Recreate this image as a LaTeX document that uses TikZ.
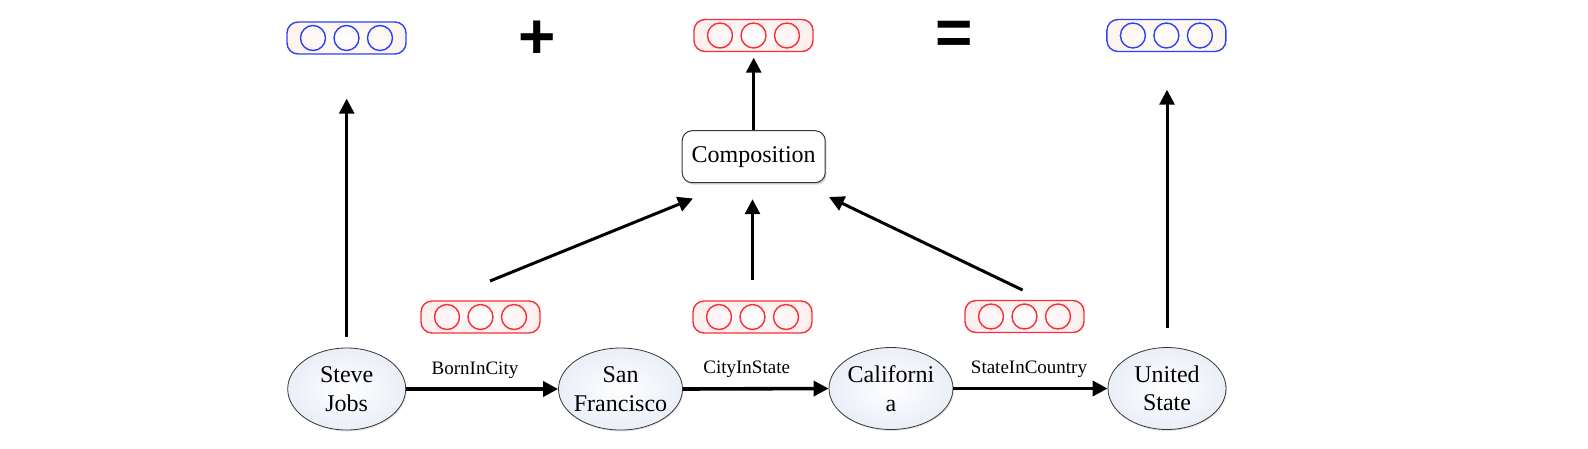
\documentclass[tikz,border=0pt]{standalone}
\usepackage{fontspec}
\setmainfont{Liberation Serif}
\newfontfamily\symfont{Liberation Sans}
\usetikzlibrary{arrows.meta,shapes.geometric,shadows}
\definecolor{vblue}{RGB}{45,65,250}
\definecolor{vred}{RGB}{250,45,60}
\definecolor{bfillb}{RGB}{253,245,236}
\definecolor{bfillr}{RGB}{253,240,238}
\definecolor{ellfill}{RGB}{234,238,247}
\definecolor{edgegray}{RGB}{55,55,55}
\tikzset{
  vecbox/.style={draw=#1, line width=1.4pt, rounded corners=11pt, minimum width=119pt, minimum height=32pt, inner sep=0pt},
  veccirc/.style={draw=#1, line width=1.4pt, circle, minimum size=25pt, inner sep=0pt},
  ent/.style={ellipse, draw=edgegray, line width=0.8pt, minimum height=82pt, inner sep=0pt,
    inner color=white, outer color=ellfill,
    drop shadow={opacity=0.2, shadow xshift=1pt, shadow yshift=-1.5pt}},
  enttext/.style={font=\fontsize{24}{28.5}\selectfont, align=center, inner sep=0pt},
  rel/.style={font=\fontsize{19}{22}\selectfont, inner sep=0pt},
  arr/.style={line width=3pt, -{Triangle[length=15pt,width=15pt]}},
  chain/.style={line width=3.6pt, -{Triangle[length=15pt,width=15pt]}},
  comp/.style={draw=edgegray, line width=1pt, rounded corners=10pt, fill=white,
    minimum width=143pt, minimum height=52pt, inner sep=0pt, font=\fontsize{24}{28}\selectfont,
    drop shadow={opacity=0.3, shadow xshift=1.5pt, shadow yshift=-2pt}},
  opsym/.style={font=\symfont\bfseries\fontsize{64}{64}\selectfont, inner sep=0pt},
}
\newcommand\vecrow[5]{%
  \node[vecbox=#4, inner color=white, outer color=#5] (#1) at (#2,#3) {};
  \node[veccirc=#4, xshift=-33.5pt] (#1-a) at (#1) {};
  \node[veccirc=#4] (#1-b) at (#1) {};
  \node[veccirc=#4, xshift=33.5pt] (#1-c) at (#1) {};
}
\begin{document}
\begin{tikzpicture}[x=1pt,y=-1pt]
\useasboundingbox (0,0) rectangle (1588,448);
% top vectors
\vecrow{vl}{346.5}{38}{vblue}{bfillb}
\vecrow{vm}{753.5}{35.5}{vred}{bfillr}
\vecrow{vr}{1166.4}{35.5}{vblue}{bfillb}
\node[opsym] (plus) at (537,40) {+};
\node[opsym] (eq) at (954,38) {=};
% composition
\node[comp] (comp) at (753.7,156.7) {Composition};
% relation vectors
\vecrow{r1}{480.5}{317}{vred}{bfillr}
\vecrow{r2}{752.5}{317}{vred}{bfillr}
\vecrow{r3}{1024.5}{316.5}{vred}{bfillr}
% entities
\node[ent, minimum width=118pt] (sj) at (346.7,389) {};
\node[ent, minimum width=124pt] (sf) at (620.5,389) {};
\node[ent, minimum width=124pt] (ca) at (891,388.5) {};
\node[ent, minimum width=118pt] (us) at (1167,388.5) {};
\node[enttext] (sj-t) at (sj) {Steve\\Jobs};
\node[enttext] (sf-t) at (sf) {San\\Francisco};
\node[enttext] (ca-t) at (ca) {Californi\\a};
\node[enttext] (us-t) at (us) {United\\State};
% relation labels
\node[rel] (lb1) at (475,370) {BornInCity};
\node[rel] (lb2) at (746.7,369.5) {CityInState};
\node[rel] (lb3) at (1029,369.5) {StateInCountry};
% chain arrows
\draw[chain] (sj.east) -- (sf.west);
\draw[chain] (sf.east) -- (ca.west);
\draw[chain] (ca.east) -- (us.west);
% vertical arrows
\draw[arr, shorten <=11pt, shorten >=44pt] (sj.north) -- (sj.north |- vl.south);
\draw[arr, shorten >=5.5pt] (comp.north) -- (comp.north |- vm.south);
\draw[arr, shorten <=19.5pt, shorten >=37.5pt] (us.north) -- (us.north |- vr.south);
% into composition
\coordinate (l1s) at (490,281);
\coordinate (l1e) at (693,198.5);
\coordinate (l3s) at (1022.5,290);
\coordinate (l3e) at (829,197);
\draw[arr] (l1s) -- (l1e);
\draw[arr, shorten <=20pt, shorten >=16pt] (r2.north) -- (r2.north |- comp.south);
\draw[arr] (l3s) -- (l3e);
\end{tikzpicture}
\end{document}
